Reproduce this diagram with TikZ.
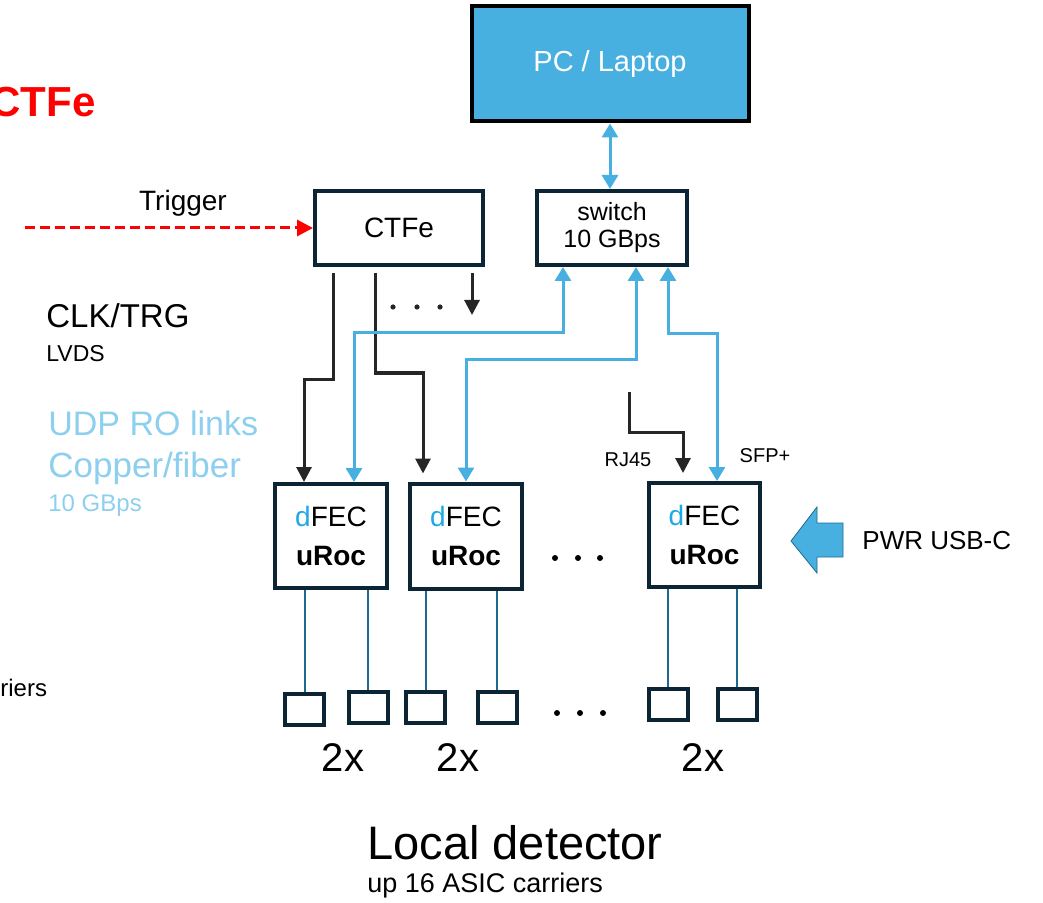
\documentclass[tikz,border=0pt]{standalone}
\usepackage{fontspec}
\setmainfont{Liberation Sans}
\usetikzlibrary{arrows.meta,calc}
\definecolor{navy}{HTML}{0B2535}
\definecolor{darkline}{HTML}{262626}
\definecolor{linkblue}{HTML}{47B0E0}
\definecolor{pcblue}{HTML}{47B0E0}
\definecolor{lightblue}{HTML}{8DCFEE}
\definecolor{dblue}{HTML}{1FA8E6}
\definecolor{pinteal}{HTML}{1E6A8E}
\definecolor{trigred}{HTML}{FF0000}
\newcommand{\fsz}[2]{\fontsize{#1}{#2}\selectfont}
\tikzset{BOX/.style={rectangle, draw=navy, line width=2pt, fill=white, inner sep=0pt, align=center}}
\tikzset{LEAF/.style={rectangle, draw=navy, line width=2pt, minimum width=19.5pt, minimum height=15.5pt, inner sep=0pt}}
\tikzset{LABEL/.style={inner sep=0pt, align=left}}
\tikzset{CLKARROW/.style={line width=1.5pt, draw=darkline, shorten <=3pt, -{Triangle[length=7.5pt,width=7.5pt]}}}
\tikzset{LINKARROW/.style={line width=1.5pt, draw=linkblue, {Triangle[length=7pt,width=8pt]}-{Triangle[length=7pt,width=8pt]}}}
\tikzset{PIN/.style={line width=1pt, draw=pinteal}}

\begin{document}
\begin{tikzpicture}[x=0.5pt, y=-0.5pt]
    \useasboundingbox (0,0) rectangle (1043,903);

    % top row
    \node[BOX, draw=black, fill=pcblue, text=white, minimum width=138.5pt, minimum height=57.5pt, font=\fsz{14.5}{17}] (pc) at (610,64) {PC / Laptop};
    \node[BOX, minimum width=84pt, minimum height=37pt, font=\fsz{14}{17}] (ctfe) at (399,228) {CTFe};
    \node[BOX, minimum width=75pt, minimum height=37pt, font=\fsz{12.5}{13.5}] (switch) at (612,228) {switch\\10 GBps};

    % front-end boards
    \node[BOX, minimum width=56pt, minimum height=52pt, font=\fsz{14}{19.5}] (uroc1) at (331,536) {\textcolor{dblue}{d}FEC\\\textbf{uRoc}};
    \node[BOX, minimum width=56pt, minimum height=52.5pt, font=\fsz{14}{19.5}] (uroc2) at (466,536) {\textcolor{dblue}{d}FEC\\\textbf{uRoc}};
    \node[BOX, minimum width=55.5pt, minimum height=52pt, font=\fsz{14}{19.5}] (uroc3) at (704.5,535) {\textcolor{dblue}{d}FEC\\\textbf{uRoc}};

    % ASIC carriers
    \node[LEAF] (leaf1a) at (304.5,709.5) {};
    \node[LEAF] (leaf1b) at (368,707) {};
    \node[LEAF] (leaf2a) at (425.5,707) {};
    \node[LEAF] (leaf2b) at (497,707) {};
    \node[LEAF] (leaf3a) at (668,704.5) {};
    \node[LEAF] (leaf3b) at (737,704.5) {};
    \draw[PIN] (leaf1a.north) -- (leaf1a.north |- uroc1.south);
    \draw[PIN] (leaf1b.north) -- (leaf1b.north |- uroc1.south);
    \draw[PIN] (leaf2a.north) -- (leaf2a.north |- uroc2.south);
    \draw[PIN] (leaf2b.north) -- (leaf2b.north |- uroc2.south);
    \draw[PIN] (leaf3a.north) -- (leaf3a.north |- uroc3.south);
    \draw[PIN] (leaf3b.north) -- (leaf3b.north |- uroc3.south);
    \node[LABEL, font=\fsz{20}{24}] (mult1) at (343,758) {2x};
    \node[LABEL, font=\fsz{20}{24}] (mult2) at (458,758) {2x};
    \node[LABEL, font=\fsz{20}{24}] (mult3) at (703,758) {2x};

    % dots
    \foreach \x in {393,417,440} \fill[darkline] (\x,307) circle (1.3pt);
    \foreach \x in {555,578,600} \fill[black] (\x,558) circle (1.5pt);
    \foreach \x in {557,580,603} \fill[black] (\x,713) circle (1.5pt);

    % trigger input
    \coordinate (trig_in) at (25,228);
    \draw[trigred, line width=1.5pt, dash pattern=on 5pt off 2.5pt, -{Triangle[length=8pt,width=8pt]}] (trig_in) -- (ctfe.west);
    \node[LABEL, font=\fsz{14}{17}] (trig_lbl) at (183,203) {Trigger};

    % clock / trigger fan-out
    \draw[CLKARROW] (ctfe.south -| 333,0) |- (304,379) -- (uroc1.north -| 304,0);
    \draw[CLKARROW, shorten >=4pt] (ctfe.south -| 375,0) |- (423,373) -- (uroc2.north -| 423,0);
    \coordinate (clk_more) at (472,315);
    \draw[CLKARROW] (ctfe.south -| 472,0) -- (clk_more);
    \coordinate (rj_in) at (629,392);
    \draw[CLKARROW, shorten <=0pt, shorten >=4pt] (rj_in) |- (683,432) -- (uroc3.north -| 683,0);

    % readout links
    \draw[LINKARROW] (pc.south) -- (pc.south |- switch.north);
    \draw[LINKARROW] (switch.south -| 563,0) |- (354,333) -- (uroc1.north -| 354,0);
    \draw[LINKARROW] (switch.south -| 636,0) |- (466,360) -- (uroc2.north -| 466,0);
    \draw[LINKARROW] (switch.south -| 668,0) |- (717,334) -- (uroc3.north -| 717,0);
    \node[LABEL, font=\fsz{10}{12}] (rj_lbl) at (628,460) {RJ45};
    \node[LABEL, font=\fsz{10}{12}] (sfp_lbl) at (765,456) {SFP+};

    % power
    \fill[linkblue, draw=pinteal, line width=0.4pt] (791,541) -- (817,507) -- (817,523) -- (843,523) -- (843,557) -- (817,557) -- (817,573) -- cycle;
    \node[LABEL, anchor=west, font=\fsz{13}{15}] (pwr_lbl) at (862,541) {PWR USB-C};

    % legend
    \node[LABEL, anchor=east, text=trigred, font=\bfseries\fsz{21}{25}] (title) at (96,102) {CTFe};
    \node[LABEL, anchor=west, font=\fsz{16.5}{19}] (clk_lbl) at (46,316) {CLK/TRG};
    \node[LABEL, anchor=west, font=\fsz{11.5}{13}] (lvds_lbl) at (46,354) {LVDS};
    \node[LABEL, anchor=west, text=lightblue, font=\fsz{17}{20}] (udp_lbl) at (48,423) {UDP RO links};
    \node[LABEL, anchor=west, text=lightblue, font=\fsz{17.5}{20}] (cu_lbl) at (48,468) {Copper/fiber};
    \node[LABEL, anchor=west, text=lightblue, font=\fsz{12}{14}] (gbps_lbl) at (48,506) {10 GBps};
    \node[LABEL, anchor=west, font=\fsz{12}{14}] (riers_lbl) at (0,688) {riers};
    \node[LABEL, anchor=west, font=\fsz{23.5}{27}] (det_lbl) at (367,843) {Local detector};
    \node[LABEL, anchor=west, font=\fsz{13.5}{16}] (asic_lbl) at (367,886) {up 16 ASIC carriers};
\end{tikzpicture}
\end{document}
